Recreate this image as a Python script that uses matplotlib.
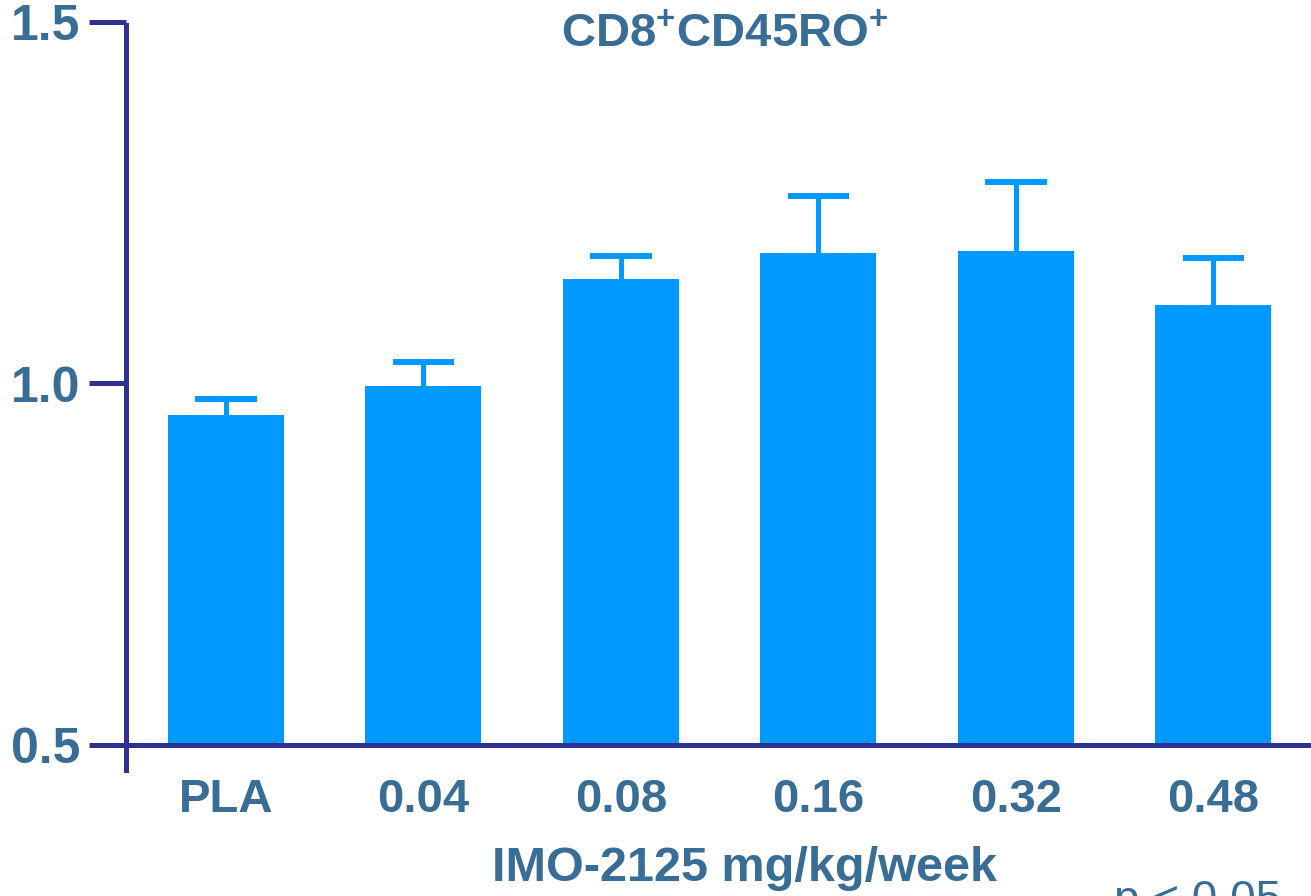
import matplotlib.pyplot as plt
import numpy as np

plt.rcParams['font.family'] = ['Liberation Sans', 'DejaVu Sans']
plt.rcParams['mathtext.fontset'] = 'custom'
plt.rcParams['mathtext.bf'] = 'Liberation Sans:bold'
plt.rcParams['mathtext.rm'] = 'Liberation Sans:bold'

# data
groups = ['PLA', '0.04', '0.08', '0.16', '0.32', '0.48']
means = [0.956, 0.996, 1.145, 1.180, 1.183, 1.108]
err_up = [0.022, 0.034, 0.031, 0.080, 0.096, 0.065]
yticks = [0.5, 1.0, 1.5]
ytick_labels = ['0.5', '1.0', '1.5']

bar_col = '#0099ff'
axis_col = '#2e3192'
text_col = '#386d96'

fig = plt.figure(figsize=(13.11, 8.96), dpi=100)
ax = fig.add_axes([126/1311, 151/896, 1 - 126/1311, 723/896])

x = np.arange(len(groups))
tops = np.array(means) + np.array(err_up)
ax.bar(x, np.array(means) - 0.5, bottom=0.5, width=0.587, color=bar_col, zorder=2)
# upper error bars only
ax.vlines(x, means, tops, color=bar_col, linewidth=3.6, zorder=1)
ax.hlines(tops, x - 0.155, x + 0.155, color=bar_col, linewidth=4.3, zorder=1)

ax.set_xlim(-0.506, 5.494)
ax.set_ylim(0.5, 1.5)

for s in ['top', 'right']:
    ax.spines[s].set_visible(False)
ax.spines['left'].set_color(axis_col)
ax.spines['left'].set_linewidth(3.6)
ax.spines['left'].set_bounds(0.4654, 1.496)
ax.spines['bottom'].set_color(axis_col)
ax.spines['bottom'].set_linewidth(3.6)
ax.spines['bottom'].set_bounds(-0.677, 5.494)
ax.spines['bottom'].set_zorder(3)

ax.set_yticks(yticks)
ax.set_yticklabels(ytick_labels)
ax.tick_params(axis='y', length=27, width=3.6, color=axis_col, pad=6,
               labelsize=36, labelcolor=text_col)
ax.set_xticks(x)
ax.set_xticklabels(groups)
ax.tick_params(axis='x', length=0, pad=24, labelsize=34, labelcolor=text_col)
for lab in ax.get_xticklabels() + ax.get_yticklabels():
    lab.set_fontweight('bold')

fig.text(725/1311, 1 - 35/896, r'CD8$^{+}$CD45RO$^{+}$', ha='center', va='center',
         fontsize=34, fontweight='bold', color=text_col)
fig.text(745/1311, 1 - 868/896, 'IMO-2125 mg/kg/week', ha='center', va='center',
         fontsize=35, fontweight='bold', color=text_col)
fig.text(1114/1311, -17/896, 'p < 0.05', ha='left', va='baseline',
         fontsize=33, color=text_col)

fig.savefig('out.png', dpi=100)
